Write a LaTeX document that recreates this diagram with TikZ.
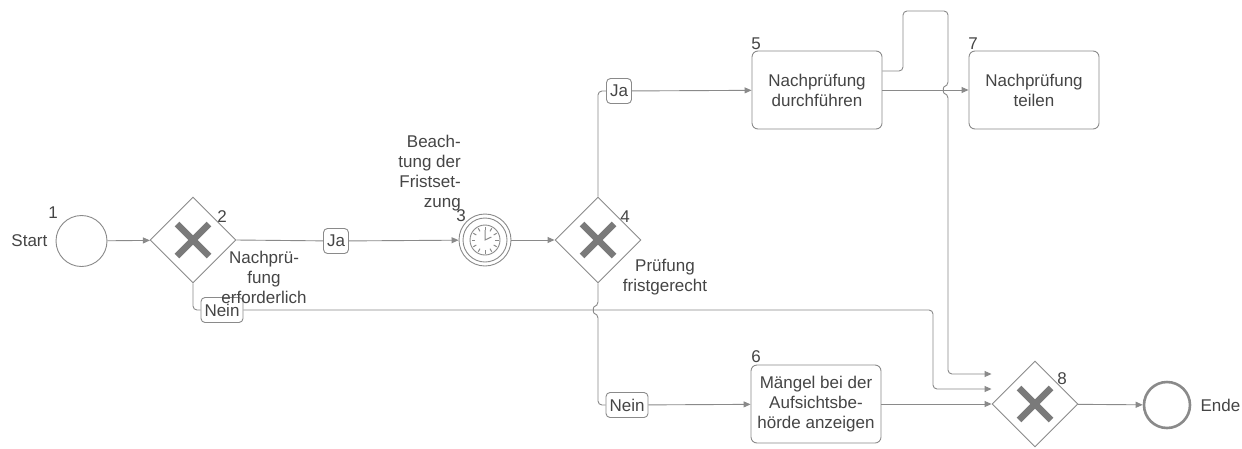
\documentclass[tikz,border=0pt]{standalone}
\usepackage{fontspec}
\setmainfont{Liberation Sans}
\usetikzlibrary{arrows.meta,calc,positioning,shapes.geometric}
\definecolor{Line}{HTML}{8A8A8A}
\definecolor{Ink}{HTML}{454545}
\definecolor{Cross}{HTML}{7A7A7A}

\begin{document}
\begin{tikzpicture}[x=1pt,y=-1pt,
        font=\fontsize{17}{20}\selectfont,text=Ink,
        ev/.style={circle,draw=Line,line width=0.9pt,minimum size=51pt,inner sep=0},
        gw/.style={diamond,draw=Line,line width=0.9pt,minimum size=86pt,inner sep=0},
        task/.style={draw=Line,line width=0.9pt,rounded corners=6pt,
          minimum width=130pt,minimum height=78pt,align=center,inner sep=2pt},
        lab/.style={draw=Line,line width=0.9pt,fill=white,rounded corners=4pt,
          inner xsep=3.5pt,inner ysep=2pt,minimum height=25pt},
        num/.style={inner sep=0},
        flow/.style={draw=Line,line width=0.9pt,rounded corners=4pt},
        arr/.style={flow,-{Triangle[length=7pt,width=6pt]}},
        xm/.style={draw=Cross,line width=6.5pt}]
  \useasboundingbox[fill=white] (0,0) rectangle (1242,448);

  \node[ev] (s1) at (81.5,241) {};
  \node[gw] (g2) at (193,240) {};
  \node[lab] (ja1) at (336,241) {Ja};
  \node[ev,minimum size=52pt] (t3) at (485,240) {};
  \node[gw] (g4) at (598,240) {};
  \node[lab] (ja2) at (619,91) {Ja};
  \node[task] (t5) at (817,90) {Nachprüfung\\durchführen};
  \node[task] (t7) at (1034,90) {Nachprüfung\\teilen};
  \node[lab] (nein1) at (222,310) {Nein};
  \node[lab] (nein2) at (627,405) {Nein};
  \node[task] (t6) at (816,404) {Mängel bei der\\Aufsichtsbe-\\hörde anzeigen};
  \node[gw] (g8) at (1035,404) {};
  \node[ev,minimum size=46pt,line width=2.6pt] (e9) at (1167,405) {};

  \node[num,left=8pt of s1] (ls) {Start};
  \node[num] (n1) at (53,213) {1};
  \node[num] (n2) at (222,217) {2};
  \node[num,align=center] (l2) at (264,277) {Nachprü-\\fung\\erforderlich};
  \node[num] (n3) at (461,216) {3};
  \node[num,align=right,anchor=east] (l3) at (461,173) {Beach-\\tung der\\Fristset-\\zung};
  \node[num] (n4) at (625,217) {4};
  \node[num,align=center] (l4) at (665,277) {Prüfung\\fristgerecht};
  \node[num] (n5) at (756,44) {5};
  \node[num] (n7) at (973,44) {7};
  \node[num] (n6) at (756,357) {6};
  \node[num] (n8) at (1062,379) {8};
  \node[num,right=9pt of e9] (le) {Ende};

  \foreach \g in {g2,g4,g8}
    \draw[xm] (\g) ++(-16,-16) -- ++(32,32) (\g) ++(-16,16) -- ++(32,-32);

  \draw[Line,line width=0.9pt] (t3.center) circle[radius=22pt];
  \draw[Line,line width=0.9pt] (t3.center) circle[radius=15pt];
  \foreach \a in {0,30,...,330}
    \draw[Line,line width=1pt] ($(t3.center)+(\a:10pt)$) -- ($(t3.center)+(\a:13.5pt)$);
  \draw[Line,line width=1pt] ($(t3.center)+(90:10pt)$) -- (t3.center) -- ($(t3.center)+(25:7pt)$);

  \draw[arr] (s1) -- (g2);
  \draw[flow] (g2.east) -- (ja1);
  \draw[arr] (ja1) -- (t3);
  \draw[arr] (t3) -- (g4);
  \draw[flow] (g4.north) |- (ja2.west);
  \draw[arr] (ja2) -- (t5);
  \draw[flow] (g4.south) -- (598,306) .. controls (593,307) and (593,313) .. (598,314) |- (nein2.west);
  \draw[arr] (nein2) -- (t6);
  \draw[flow] (g2.south) |- (nein1.west);
  \draw[arr] (nein1.east) -- (933,310) |- ([yshift=15pt]g8.west);
  \draw[arr] (t5) -- (t7);
  \draw[arr] ([yshift=19pt]t5.east) -- (903,71) |- (948,11) -- (948,86)
    .. controls (943,87) and (943,93) .. (948,94) |- ([yshift=30pt]g8.west);
  \draw[arr] (t6) -- (g8);
  \draw[arr] (g8) -- (e9);
\end{tikzpicture}
\end{document}
